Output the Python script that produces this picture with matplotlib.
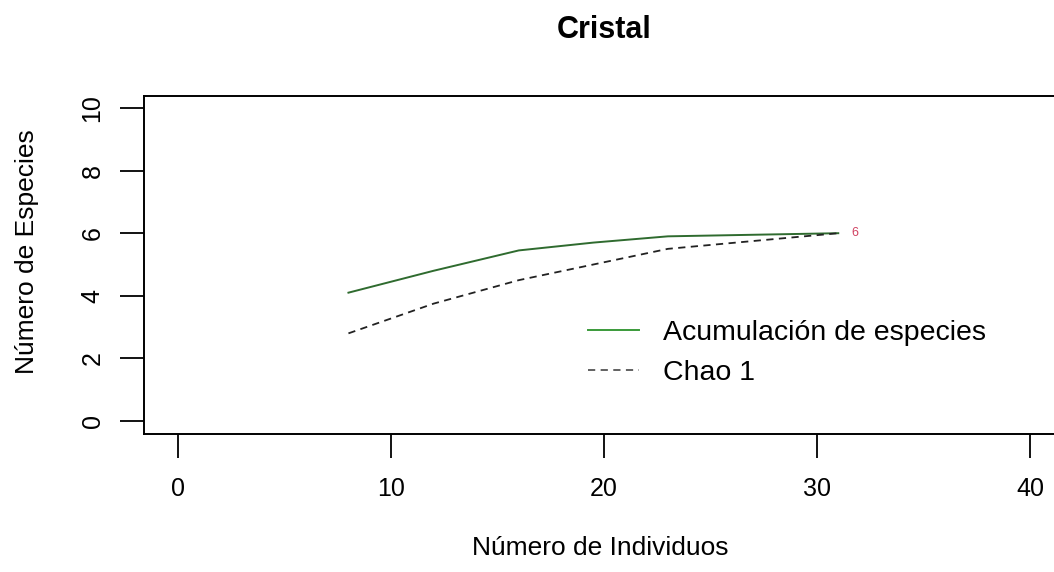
import matplotlib
matplotlib.use("Agg")
import matplotlib.pyplot as plt

# values
individuos = [8, 12, 16, 19.5, 23, 27, 31]
acumulacion = [4.1, 4.8, 5.45, 5.7, 5.9, 5.95, 6.0]
chao1 = [2.8, 3.75, 4.5, 5.0, 5.5, 5.75, 6.0]
x_ticks = [0, 10, 20, 30, 40]
y_ticks = [0, 2, 4, 6, 8, 10]
etiqueta_final = "6"


def main():
    plt.rcParams['font.family'] = ['Liberation Sans', 'DejaVu Sans']
    fig = plt.figure(figsize=(10.54, 5.72), dpi=100)
    W, H = 1054, 572
    left, right, top, bottom = 144, 1064, 95.5, 433.5
    ax = fig.add_axes([left / W, 1 - bottom / H, (right - left) / W, (bottom - top) / H])

    ax.plot(individuos, acumulacion, color='#2f6b2f', lw=1.4,
            label='Acumulación de especies')
    ax.plot(individuos, chao1, color='#222222', lw=1.3, ls=(0, (4, 3)),
            label='Chao 1')
    ax.text(individuos[-1] + 0.6, acumulacion[-1], etiqueta_final,
            color='#d04060', fontsize=9, va='center', ha='left')

    ax.set_xlim(-1.6, 41.6)
    ax.set_ylim(-0.4, 10.4)
    ax.set_xticks(x_ticks)
    ax.set_yticks(y_ticks)
    ax.tick_params(axis='both', length=17, width=1.3, labelsize=18)
    ax.tick_params(axis='x', pad=14)
    ax.tick_params(axis='y', pad=20)
    plt.setp(ax.get_yticklabels(), rotation=90, va='center', ha='center')
    for s in ax.spines.values():
        s.set_linewidth(1.4)

    fig.text(604 / W, 1 - 30 / H, 'Cristal', ha='center', va='center',
             fontsize=22, fontweight='bold')
    fig.text(600 / W, 1 - 548 / H, 'Número de Individuos', ha='center',
             va='center', fontsize=19)
    fig.text(27 / W, 1 - 252 / H, 'Número de Especies', ha='center',
             va='center', fontsize=19, rotation=90)

    leg = ax.legend(loc='upper left', bbox_to_anchor=(588 / W, 1 - 320 / H),
                    bbox_transform=fig.transFigure, borderaxespad=0,
                    borderpad=0, frameon=False, fontsize=20.5,
                    handlelength=1.8, handletextpad=0.85, labelspacing=0.5)
    leg.get_lines()[0].set_color('#3a9a3a')
    leg.get_lines()[1].set_color('#555555')

    fig.savefig('out.png', dpi=100)


if __name__ == "__main__":
    main()
